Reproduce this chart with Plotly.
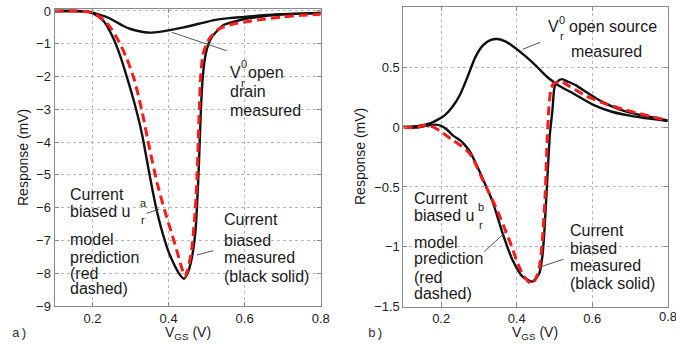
import plotly.graph_objects as go

W, H = 676, 345

# ---------------- Panel a) data ----------------
xa_open = [0.10, 0.15, 0.18, 0.20, 0.22, 0.24, 0.26, 0.28, 0.30, 0.32, 0.35, 0.38, 0.41, 0.44,
           0.48, 0.52, 0.56, 0.60, 0.65, 0.70, 0.75, 0.80]
ya_open = [0.0, 0.0, -0.01, -0.05, -0.12, -0.20, -0.32, -0.45, -0.55, -0.61, -0.66, -0.63, -0.57, -0.50,
           -0.39, -0.28, -0.22, -0.18, -0.13, -0.10, -0.08, -0.06]

xa_meas = [0.10, 0.15, 0.17, 0.19, 0.21, 0.23, 0.25, 0.27, 0.29, 0.31, 0.33, 0.35, 0.36, 0.37, 0.38,
           0.39, 0.40, 0.41, 0.42, 0.43, 0.44, 0.45, 0.46, 0.47, 0.475, 0.48, 0.485, 0.49, 0.497,
           0.505, 0.514, 0.53, 0.544, 0.57, 0.606, 0.65, 0.693, 0.75, 0.80]
ya_meas = [0.0, 0.0, -0.01, -0.03, -0.13, -0.32, -0.72, -1.28, -2.0, -2.8, -3.75, -5.0, -5.6, -6.15, -6.6,
           -7.0, -7.35, -7.62, -7.86, -8.05, -8.17, -8.0, -7.6, -6.8, -5.9, -4.6, -3.0, -2.0, -1.35,
           -1.0, -0.79, -0.58, -0.43, -0.33, -0.23, -0.16, -0.11, -0.08, -0.06]

xa_model = [0.10, 0.15, 0.17, 0.19, 0.21, 0.23, 0.25, 0.27, 0.29, 0.31, 0.33, 0.35, 0.37, 0.39, 0.41,
            0.425, 0.435, 0.443, 0.45, 0.46, 0.468, 0.474, 0.478, 0.481, 0.485, 0.49, 0.50, 0.51,
            0.535, 0.57, 0.61, 0.65, 0.70, 0.75, 0.80]
ya_model = [0.0, 0.0, -0.01, -0.03, -0.12, -0.28, -0.55, -0.95, -1.45, -2.1, -3.05, -4.2, -5.25, -6.1, -6.85,
            -7.45, -7.85, -8.1, -7.9, -7.35, -6.4, -5.3, -4.0, -2.9, -1.9, -1.35, -1.0, -0.8,
            -0.53, -0.4, -0.32, -0.25, -0.18, -0.13, -0.10]

# ---------------- Panel b) data ----------------
xb_open = [0.10, 0.14, 0.17, 0.19, 0.21, 0.23, 0.25, 0.27, 0.29, 0.31, 0.33, 0.35, 0.37, 0.39, 0.42,
           0.45, 0.48, 0.51, 0.55, 0.60, 0.65, 0.70, 0.75, 0.80]
yb_open = [0.0, 0.01, 0.03, 0.06, 0.10, 0.17, 0.27, 0.42, 0.58, 0.68, 0.725, 0.735, 0.715, 0.675, 0.60,
           0.515, 0.42, 0.35, 0.28, 0.19, 0.13, 0.095, 0.07, 0.05]

xb_meas = [0.10, 0.13, 0.16, 0.185, 0.20, 0.215, 0.231, 0.25, 0.26, 0.275, 0.29, 0.31, 0.336, 0.363,
           0.389, 0.416, 0.442, 0.46, 0.468, 0.473, 0.48, 0.488, 0.495, 0.50, 0.508, 0.52, 0.535,
           0.556, 0.59, 0.627, 0.67, 0.715, 0.76, 0.80]
yb_meas = [0.0, -0.005, 0.01, 0.02, 0.01, -0.02, -0.07, -0.11, -0.14, -0.20, -0.29, -0.43, -0.62, -0.89,
           -1.11, -1.25, -1.29, -1.22, -1.08, -0.89, -0.5, -0.06, 0.15, 0.33, 0.38, 0.40, 0.38,
           0.35, 0.28, 0.21, 0.15, 0.11, 0.08, 0.055]

xb_model = [0.10, 0.13, 0.16, 0.18, 0.20, 0.231, 0.25, 0.275, 0.29, 0.31, 0.345, 0.38, 0.407, 0.425,
            0.439, 0.45, 0.46, 0.468, 0.475, 0.481, 0.485, 0.49, 0.497, 0.516, 0.54, 0.583, 0.63,
            0.68, 0.715, 0.76, 0.80]
yb_model = [0.0, -0.005, 0.015, 0.0, -0.04, -0.11, -0.15, -0.22, -0.30, -0.44, -0.67, -0.94, -1.17, -1.27,
            -1.31, -1.27, -1.17, -0.95, -0.6, -0.1, 0.15, 0.30, 0.36, 0.38, 0.34, 0.26, 0.20,
            0.15, 0.12, 0.085, 0.055]

x_ticks = [0.2, 0.4, 0.6, 0.8]
ya_ticks = [0, -1, -2, -3, -4, -5, -6, -7, -8, -9]
yb_ticks = [1, 0.5, 0, -0.5, -1, -1.5]


def px(x):
    return x / W


def py(y):
    return 1 - y / H


BLACK = "#111111"
RED = "#ff1a1a"
FONT = "Liberation Sans"

fig = go.Figure()

line_black = dict(color=BLACK, width=2.4, shape="spline", smoothing=0.6)
line_red = dict(color=RED, width=3, dash="9px,5px", shape="spline", smoothing=0.6)

fig.add_trace(go.Scatter(x=xa_open, y=ya_open, mode="lines", line=line_black, xaxis="x", yaxis="y"))
fig.add_trace(go.Scatter(x=xa_meas, y=ya_meas, mode="lines", line=line_black, xaxis="x", yaxis="y"))
fig.add_trace(go.Scatter(x=xa_model, y=ya_model, mode="lines", line=line_red, xaxis="x", yaxis="y"))

fig.add_trace(go.Scatter(x=xb_open, y=yb_open, mode="lines", line=line_black, xaxis="x2", yaxis="y2"))
fig.add_trace(go.Scatter(x=xb_meas, y=yb_meas, mode="lines", line=line_black, xaxis="x2", yaxis="y2"))
fig.add_trace(go.Scatter(x=xb_model, y=yb_model, mode="lines", line=line_red, xaxis="x2", yaxis="y2"))

axis_common = dict(
    showline=True, linecolor="#8a8a8a", linewidth=1, mirror="ticks",
    ticks="inside", ticklen=4, tickcolor="#8a8a8a", automargin=False,
    showgrid=True, gridcolor="#b8b8b8", griddash="dot", gridwidth=1,
    zeroline=False, tickfont=dict(family=FONT, size=13, color="#222222"),
)

fig.update_layout(
    width=W, height=H,
    margin=dict(l=0, r=0, t=0, b=0, pad=0, autoexpand=False),
    paper_bgcolor="white", plot_bgcolor="white",
    showlegend=False,
    xaxis=dict(domain=[px(54.5), px(320.7)], range=[0.1, 0.8], tickvals=x_ticks,
               ticktext=[str(v) for v in x_ticks], anchor="y", **axis_common),
    yaxis=dict(domain=[py(306), py(9)], range=[-9, 0.06], tickvals=ya_ticks, anchor="x",
               **axis_common),
    xaxis2=dict(domain=[px(403.4), px(667.7)], range=[0.1, 0.8], tickvals=x_ticks,
                ticktext=[str(v) for v in x_ticks], anchor="y2", **axis_common),
    yaxis2=dict(domain=[py(306.7), py(7.3)], range=[-1.5, 1], tickvals=yb_ticks, anchor="x2",
                **axis_common),
)

annotations = []


def txt(x, y, s, size=16, xanchor="left", family=FONT, color="#1a1a1a", angle=0):
    annotations.append(dict(
        x=px(x), y=py(y), xref="paper", yref="paper", text=s, showarrow=False,
        xanchor=xanchor, yanchor="middle", textangle=angle,
        font=dict(family=family, size=size, color=color),
    ))


# Panel a) labels
txt(227.7, 72, "V")
txt(238.5, 64, "0", size=11)
txt(238.5, 83, "r", size=11)
txt(246, 73, "open")
txt(227.7, 92, "drain")
txt(227.7, 111, "measured")

txt(68.3, 194, "Current")
txt(68.3, 211, "biased u")
txt(137.5, 203, "a", size=11)
txt(138.5, 220, "r", size=11)
txt(68.3, 239, "model")
txt(68.3, 257, "prediction")
txt(68.3, 273, "(red")
txt(68.3, 288, "dashed)")

txt(221.7, 220, "Current")
txt(221.7, 240, "biased")
txt(221.7, 257, "measured")
txt(221.7, 276, "(black solid)")

# Panel b) labels
txt(546, 27, "V")
txt(557, 20, "0", size=11)
txt(557.5, 36, "r", size=11)
txt(567, 27, "open source")
txt(569.3, 51, "measured")

txt(412, 198, "Current")
txt(412, 215, "biased u")
txt(475.5, 207, "b", size=11)
txt(476.5, 225, "r", size=11)
txt(412, 242, "model")
txt(412, 258, "prediction")
txt(412, 277, "(red")
txt(412, 293, "dashed)")

txt(567.7, 230, "Current")
txt(567.7, 248, "biased")
txt(567.7, 265, "measured")
txt(567.7, 283, "(black solid)")

# Axis titles
txt(188, 333, "V<sub>GS</sub> (V)", size=14, xanchor="center")
txt(535, 333, "V<sub>GS</sub> (V)", size=14, xanchor="center")
txt(23, 158, "Response (mV)", size=14, xanchor="center", angle=-90)
txt(360, 157, "Response (mV)", size=14, xanchor="center", angle=-90)

# Last tick label of panel b), cut by the page edge as in the original
txt(667.7, 316, str(x_ticks[-1]), size=13, xanchor="center", color="#222222")

# Panel letters
txt(10, 333, "a)", size=13, family="Liberation Mono", color="#333333")
txt(366, 333, "b)", size=13, family="Liberation Mono", color="#333333")

fig.update_layout(annotations=annotations)

# Pointer lines
pointers = [
    (171.7, 32.3, 226.7, 50.7),
    (146.7, 213.3, 159.0, 209.3),
    (196.7, 255.0, 213.3, 250.7),
    (522.7, 49.3, 540.0, 42.3),
    (484.3, 251.7, 507.7, 230.0),
    (541.0, 266.7, 563.3, 259.3),
]
for x0, y0, x1, y1 in pointers:
    fig.add_shape(type="line", xref="paper", yref="paper",
                  x0=px(x0), y0=py(y0), x1=px(x1), y1=py(y1),
                  line=dict(color="#555555", width=1))

fig.write_html("out.html", config={"displayModeBar": False},
               post_script="document.body.style.margin='0';document.body.style.overflow='hidden';")
